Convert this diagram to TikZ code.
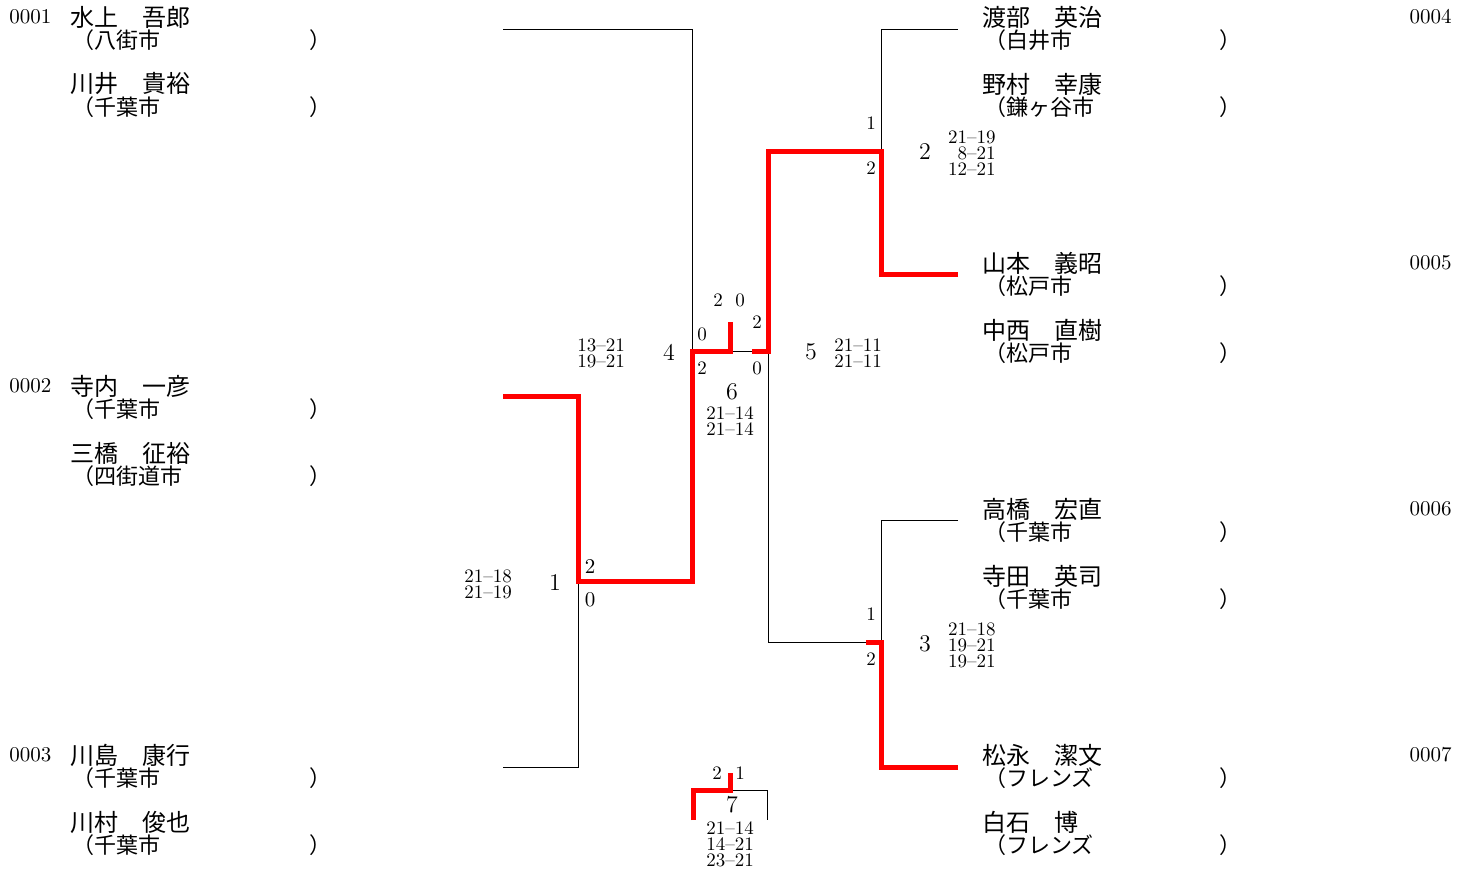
\documentclass[tikz,border=0pt]{standalone}
\usepackage{fontspec}
\newfontfamily\jp{Noto Sans CJK JP}
\usetikzlibrary{calc}

\begin{document}
\begin{tikzpicture}[x=0.5pt,y=-0.5pt,
	tline/.style={black,line width=0.5pt},
	win/.style={red,line width=2.5pt},
	pname/.style={anchor=west,font=\jp\fontsize{12}{12}\selectfont},
	club/.style={anchor=west,font=\jp\fontsize{11}{11}\selectfont},
	pnum/.style={font=\fontsize{10.5}{10.5}\selectfont},
	score/.style={align=center,font=\fontsize{9.5}{8}\selectfont},
	pts/.style={font=\fontsize{9.5}{9.5}\selectfont},
	mno/.style={font=\fontsize{12}{12}\selectfont}]
	\tikzstyle{every node}+=[inner sep=0pt]
	\useasboundingbox (0,0) rectangle (1472,870);
	% entries
	\coordinate (p1) at (503,30);
	\coordinate (p2) at (503,397);
	\coordinate (p3) at (503,767);
	\coordinate (p4) at (958,30);
	\coordinate (p5) at (958,275);
	\coordinate (p6) at (958,521);
	\coordinate (p7) at (958,767);
	% junctions
	\coordinate (m1) at (578,582);
	\coordinate (m2) at (881,152);
	\coordinate (m3) at (881,643);
	\coordinate (m4) at (692,352);
	\coordinate (m5) at (768,352);
	\coordinate (m6) at (730,352);
	\coordinate (m7) at (730,790);
	\coordinate (t7a) at (693,820);
	\coordinate (t7b) at (767,820);
	% thin lines
	\draw [tline] (p1) -| (m4);
	\draw [tline] (p3) -| (m1);
	\draw [tline] (p4) -| (m2);
	\draw [tline] (p6) -| (m3);
	\draw [tline] (m3) -| (m5);
	\draw [tline] (m6) -- (m5);
	\draw [tline] (m7) -| (t7b);
	% winners
	\draw [win] (p2) -| (m1) -| (m4) -- (m6) -- ++(0,-30);
	\draw [win] (p5) -| (m2) -| (m5) -- ++(-16,0);
	\draw [win] (p7) -| (m3) -- ++(-15,0);
	\draw [win] (t7a) |- (m7) -- ++(0,-17);
	% left players
	\node [pnum,anchor=west] (n1) at (9,17) {0001};
	\node [pname] (a1) at (70,17) {水上　吾郎};
	\node [club] (c1) at (72,40) {（八街市};
	\node [club] (e1) at (309,40) {）};
	\node [pname] (a2) at (70,84) {川井　貴裕};
	\node [club] (c2) at (72,107) {（千葉市};
	\node [club] (e2) at (309,107) {）};
	\node [pnum,anchor=west] (n2) at (9,386) {0002};
	\node [pname] (a3) at (70,386) {寺内　一彦};
	\node [club] (c3) at (72,409) {（千葉市};
	\node [club] (e3) at (309,409) {）};
	\node [pname] (a4) at (70,453) {三橋　征裕};
	\node [club] (c4) at (72,476) {（四街道市};
	\node [club] (e4) at (309,476) {）};
	\node [pnum,anchor=west] (n3) at (9,755) {0003};
	\node [pname] (a5) at (70,755) {川島　康行};
	\node [club] (c5) at (72,778) {（千葉市};
	\node [club] (e5) at (309,778) {）};
	\node [pname] (a6) at (70,822) {川村　俊也};
	\node [club] (c6) at (72,845) {（千葉市};
	\node [club] (e6) at (309,845) {）};
	% right players
	\node [pnum,anchor=east] (n4) at (1452,17) {0004};
	\node [pname] (a7) at (982,17) {渡部　英治};
	\node [club] (c7) at (984,40) {（白井市};
	\node [club] (e7) at (1219,40) {）};
	\node [pname] (a8) at (982,84) {野村　幸康};
	\node [club] (c8) at (984,107) {（鎌ヶ谷市};
	\node [club] (e8) at (1219,107) {）};
	\node [pnum,anchor=east] (n5) at (1452,263) {0005};
	\node [pname] (a9) at (982,263) {山本　義昭};
	\node [club] (c9) at (984,286) {（松戸市};
	\node [club] (e9) at (1219,286) {）};
	\node [pname] (a10) at (982,330) {中西　直樹};
	\node [club] (c10) at (984,353) {（松戸市};
	\node [club] (e10) at (1219,353) {）};
	\node [pnum,anchor=east] (n6) at (1452,509) {0006};
	\node [pname] (a11) at (982,509) {高橋　宏直};
	\node [club] (c11) at (984,532) {（千葉市};
	\node [club] (e11) at (1219,532) {）};
	\node [pname] (a12) at (982,576) {寺田　英司};
	\node [club] (c12) at (984,599) {（千葉市};
	\node [club] (e12) at (1219,599) {）};
	\node [pnum,anchor=east] (n7) at (1452,755) {0007};
	\node [pname] (a13) at (982,755) {松永　潔文};
	\node [club] (c13) at (984,778) {（フレンズ};
	\node [club] (e13) at (1219,778) {）};
	\node [pname] (a14) at (982,822) {白石　博};
	\node [club] (c14) at (984,845) {（フレンズ};
	\node [club] (e14) at (1219,845) {）};
	% match 1
	\node [score] (s1) at (488,584) {21--18\\21--19};
	\node [mno] (k1) at (555,583) {1};
	\node [pnum] (w1) at (590,567) {2};
	\node [pnum] (l1) at (590,600) {0};
	% match 2
	\node [pts] (w2) at (871,123) {1};
	\node [pts] (l2) at (871,168) {2};
	\node [mno] (k2) at (925,152) {2};
	\node [score,align=right,anchor=east] (s2) at (996,153) {21--19\\8--21\\12--21};
	% match 3
	\node [pts] (w3) at (871,614) {1};
	\node [pts] (l3) at (871,659) {2};
	\node [mno] (k3) at (925,644) {3};
	\node [score,align=right,anchor=east] (s3) at (996,645) {21--18\\19--21\\19--21};
	% match 4
	\node [score] (s4) at (601,353) {13--21\\19--21};
	\node [mno] (k4) at (669,352) {4};
	\node [pts] (w4) at (702,334) {0};
	\node [pts] (l4) at (702,368) {2};
	% match 5
	\node [pts] (w5) at (757,322) {2};
	\node [pts] (l5) at (757,368) {0};
	\node [mno] (k5) at (811,352) {5};
	\node [score] (s5) at (858,353) {21--11\\21--11};
	% final
	\node [pts] (w6) at (718,300) {2};
	\node [pts] (l6) at (740,300) {0};
	\node [mno] (k6) at (732,392) {6};
	\node [score] (s6) at (730,421) {21--14\\21--14};
	% match 7
	\node [pts] (w7) at (717,773) {2};
	\node [pts] (l7) at (740,773) {1};
	\node [mno] (k7) at (732,805) {7};
	\node [score] (s7) at (730,844) {21--14\\14--21\\23--21};
\end{tikzpicture}
\end{document}
